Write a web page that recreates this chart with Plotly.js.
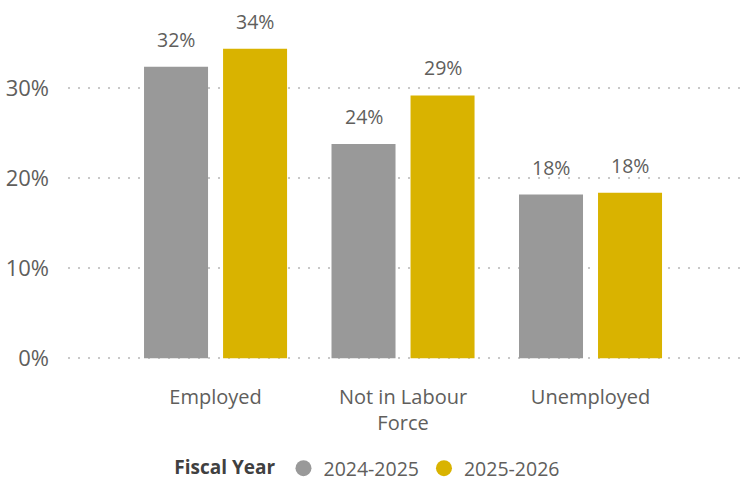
<!DOCTYPE html>
<html>
<head>
<meta charset="utf-8">
<script src="https://cdn.plot.ly/plotly-3.0.1.min.js"></script>
<style>html,body{margin:0;padding:0;background:#fff;}#chart{width:745px;height:482px;}</style>
</head>
<body>
<div id="chart"></div>
<script>
const categories = ["Employed", "Not in Labour<br>Force", "Unemployed"];
const seriesNames = ["2024-2025", "2025-2026"];
const values2024 = [0.324, 0.238, 0.182];
const values2025 = [0.344, 0.292, 0.184];
const yTickVals = [0, 0.1, 0.2, 0.3];
const yTickText = ["0%", "10%", "20%", "30%"];

const colors = ["#999999", "#D9B300"];
const textColor = "#605E5C";
const fontFamily = "'Segoe UI', 'Open Sans', sans-serif";
const allSeries = [values2024, values2025];

const traces = [];
allSeries.forEach((vals, i) => {
  traces.push({
    type: "bar",
    x: categories,
    y: vals,
    name: seriesNames[i],
    marker: {color: colors[i]},
    showlegend: false,
    hoverinfo: "skip"
  });
});
// legend entries with circle markers
allSeries.forEach((vals, i) => {
  traces.push({
    type: "scatter",
    mode: "markers",
    x: [null],
    y: [null],
    name: seriesNames[i],
    marker: {color: colors[i], size: 19, symbol: "circle"},
    showlegend: true,
    hoverinfo: "skip"
  });
});

// data labels placed through axis scales
const annotations = [];
const shifts = [-39.5, 39.5];
allSeries.forEach((vals, i) => {
  vals.forEach((v, j) => {
    annotations.push({
      x: categories[j],
      y: v,
      xref: "x",
      yref: "y",
      text: Math.round(v * 100) + "%",
      showarrow: false,
      xshift: shifts[i],
      yshift: 12,
      yanchor: "bottom",
      font: {family: fontFamily, size: 19.5, color: textColor}
    });
  });
});

const layout = {
  width: 745,
  height: 482,
  margin: {l: 68, r: 0, t: 0, b: 121},
  paper_bgcolor: "#ffffff",
  plot_bgcolor: "#ffffff",
  font: {family: fontFamily, color: textColor},
  barmode: "group",
  bargap: 0.157,
  bargroupgap: 0.19,
  xaxis: {
    type: "category",
    range: [-0.787, 2.824],
    autorange: false,
    showgrid: false,
    zeroline: false,
    showline: false,
    ticks: "",
    ticklabelstandoff: 22,
    tickfont: {family: fontFamily, size: 20, color: textColor},
    fixedrange: true
  },
  yaxis: {
    range: [-0.003, 0.3981],
    autorange: false,
    tickvals: yTickVals,
    ticktext: yTickText,
    showgrid: true,
    gridcolor: "#C8C8C8",
    gridwidth: 2,
    griddash: "2px,8px",
    zeroline: false,
    showline: false,
    ticks: "",
    ticklabelstandoff: 18,
    tickfont: {family: fontFamily, size: 22, color: textColor},
    fixedrange: true
  },
  legend: {
    orientation: "h",
    xref: "container",
    yref: "container",
    x: 0.495,
    xanchor: "center",
    y: 0.028,
    yanchor: "middle",
    title: {text: "<b>Fiscal Year</b>", font: {family: fontFamily, size: 19, color: "#404040"}},
    font: {family: fontFamily, size: 19.5, color: textColor},
    itemwidth: 30,
    tracegroupgap: 0
  },
  annotations: annotations,
  showlegend: true
};

Plotly.newPlot("chart", traces, layout, {displayModeBar: false, staticPlot: true});
</script>
</body>
</html>
